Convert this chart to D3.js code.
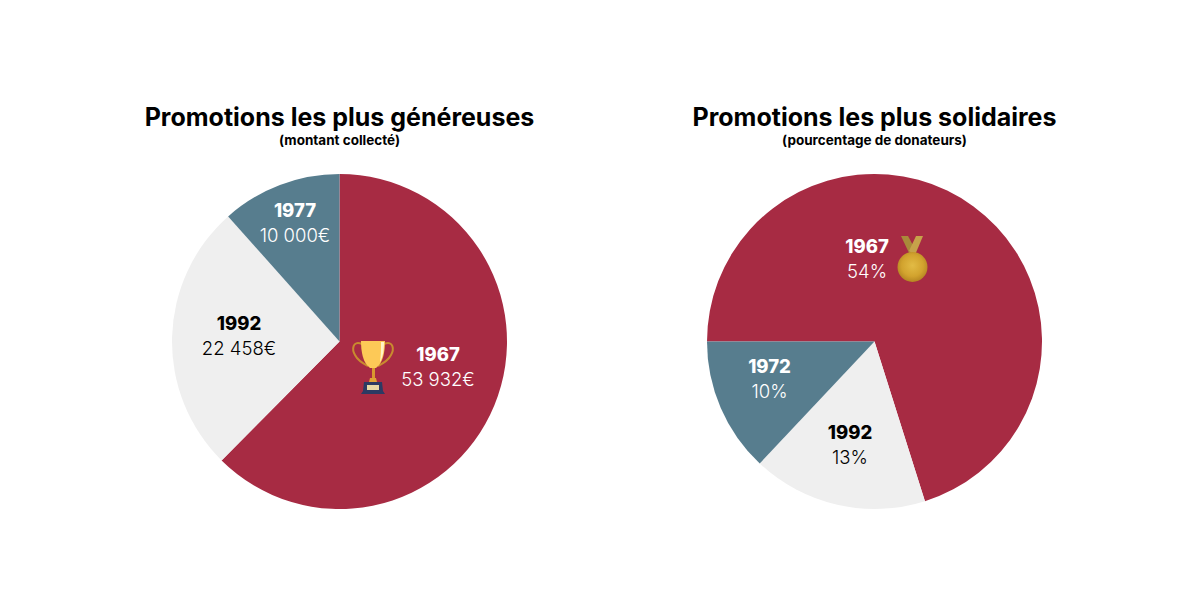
<!DOCTYPE html>
<html>
<head>
<meta charset="utf-8">
<script src="https://cdn.jsdelivr.net/npm/d3@7"></script>
<style>
  html, body { margin: 0; background: #fff; }
  text { font-family: Inter, "Open Sans", sans-serif; text-anchor: middle; }
  .title { font-size: 25px; font-weight: 700; }
  .subtitle { font-size: 13.5px; font-weight: 700; }
  .year { font-size: 18.5px; font-weight: 800; }
  .amount { font-size: 18.5px; font-weight: 300; }
</style>
</head>
<body>
<svg id="chart" width="1200" height="600"></svg>
<script>
var leftYears = ["1967", "1992", "1977"];
var leftValues = [53932, 22458, 10000];
var leftLabels = ["53 932€", "22 458€", "10 000€"];

var rightYears = ["1967", "1992", "1972"];
var rightValues = [54, 13, 10];
var rightLabels = ["54%", "13%", "10%"];

var colors = d3.scaleOrdinal()
  .domain(["1967", "1992", "1977", "1972"])
  .range(["#a72b43", "#efefef", "#577d8e", "#577d8e"]);
var textColors = { "1967": "#fff", "1992": "#000", "1977": "#fff", "1972": "#fff" };

var svg = d3.select("#chart");
var radius = 167.5;
var arc = d3.arc().innerRadius(0).outerRadius(radius);

function drawPie(opts) {
  var g = svg.append("g").attr("transform", "translate(" + opts.cx + ",341.5)");
  var pie = d3.pie().sort(null).startAngle(opts.start).endAngle(opts.start + 2 * Math.PI);
  var slices = pie(opts.values);

  g.selectAll("path")
    .data(slices)
    .enter()
    .append("path")
    .attr("d", arc)
    .attr("fill", function(d, i) { return colors(opts.years[i]); });

  // label offsets sit on each slice centre, nudged to where the original has them
  slices.forEach(function(d, i) {
    var p = opts.labelAt[i];
    g.append("text").attr("class", "year").attr("x", p[0]).attr("y", p[1])
      .attr("fill", textColors[opts.years[i]]).text(opts.years[i]);
    g.append("text").attr("class", "amount").attr("x", p[0]).attr("y", p[1] + 25.5)
      .attr("fill", textColors[opts.years[i]]).text(opts.labels[i]);
  });

  svg.append("text").attr("class", "title").attr("x", opts.cx).attr("y", 126).text(opts.title);
  svg.append("text").attr("class", "subtitle").attr("x", opts.cx).attr("y", 145).text(opts.subtitle);
}

drawPie({
  cx: 339.5, start: 0,
  years: leftYears, values: leftValues, labels: leftLabels,
  title: "Promotions les plus généreuses", subtitle: "(montant collecté)",
  labelAt: [[98.5, 19], [-100.5, -12], [-44.5, -125]]
});
drawPie({
  cx: 874.5, start: -Math.PI / 2,
  years: rightYears, values: rightValues, labels: rightLabels,
  title: "Promotions les plus solidaires", subtitle: "(pourcentage de donateurs)",
  labelAt: [[-7.5, -89], [-24.5, 97], [-105, 31]]
});

var defs = svg.append("defs");
var gold = defs.append("radialGradient").attr("id", "gold").attr("cx", "50%").attr("cy", "45%").attr("r", "55%");
gold.append("stop").attr("offset", "0%").attr("stop-color", "#e2bb45");
gold.append("stop").attr("offset", "65%").attr("stop-color", "#d2a32e");
gold.append("stop").attr("offset", "100%").attr("stop-color", "#b58522");

// trophy
var t = svg.append("g");
t.append("path").attr("fill", "none").attr("stroke", "#c98b2f").attr("stroke-width", 2)
  .attr("d", "M362,344 C352,340 352,350 355,355 C358,361 364,364 368,366");
t.append("path").attr("fill", "none").attr("stroke", "#c98b2f").attr("stroke-width", 2)
  .attr("d", "M384,344 C394,340 394,350 391,355 C388,361 382,364 378,366");
t.append("path").attr("fill", "#fdc957")
  .attr("d", "M361,341 L385,341 C385,352 383,363 376,368 L370,368 C363,363 361,352 361,341 Z");
t.append("path").attr("fill", "#fff3c8").attr("d", "M381,342 L384,342 C384,350 383,357 380,362 C381,355 381,349 381,342 Z");
t.append("rect").attr("x", 372).attr("y", 368).attr("width", 3).attr("height", 10).attr("fill", "#d9982f");
t.append("path").attr("fill", "#e0a336").attr("d", "M369,382 L377,382 L376,378 L370,378 Z");
t.append("path").attr("fill", "#2c3a63").attr("d", "M364,382 L382,382 L383,391 L385,394 L361,394 L363,391 Z");
t.append("rect").attr("x", 367).attr("y", 385).attr("width", 12).attr("height", 5).attr("fill", "#e8d9a6");

// medal
var m = svg.append("g");
m.append("path").attr("fill", "#a98a3a").attr("d", "M901,236 L908,236 L916,251 L910,255 Z");
m.append("path").attr("fill", "#c6a24a").attr("d", "M923,236 L916,236 L909,251 L915,255 Z");
m.append("circle").attr("cx", 912.5).attr("cy", 267).attr("r", 15).attr("fill", "url(#gold)");
</script>
</body>
</html>
